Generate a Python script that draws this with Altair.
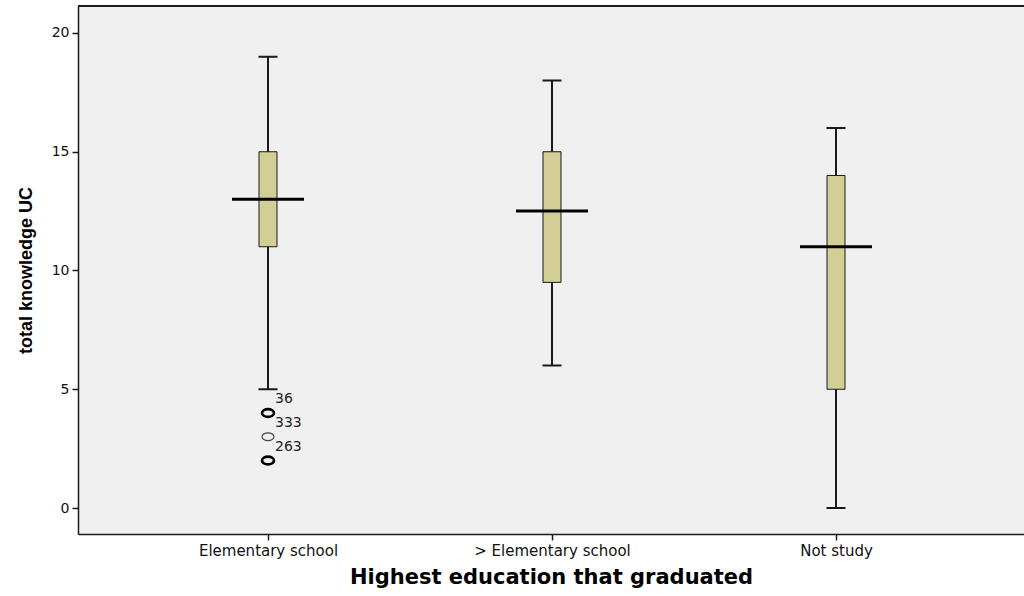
import altair as alt
import pandas as pd

# Summary statistics of total knowledge score by education level
groups = ["Elementary school", "> Elementary school", "Not study"]
whisker_low = [5, 6, 0]
q1 = [11, 9.5, 5]
median = [13, 12.5, 11]
q3 = [15, 15, 14]
whisker_high = [19, 18, 16]

# Outlying cases (all in the first group); several overlapping cases draw a heavier ring
outlier_group = [0, 0, 0]
outlier_value = [4, 3, 2]
outlier_case = ["36", "333", "263"]
outlier_multiple = ["yes", "no", "yes"]

boxes = pd.DataFrame({
    "pos": list(range(len(groups))),
    "group": groups,
    "lo": whisker_low,
    "q1": q1,
    "med": median,
    "q3": q3,
    "hi": whisker_high,
})
outliers = pd.DataFrame({
    "pos": outlier_group,
    "value": outlier_value,
    "case": outlier_case,
    "multiple": outlier_multiple,
})

W, H = 946, 528
X_DOMAIN = [-0.66901, 2.66197]
Y_DOMAIN = [-1.0947, 21.1368]
INK = "#1a1a1a"
BOX_FILL = "#d3cd96"

label_expr = "datum.value == 0 ? 'Elementary school' : datum.value == 1 ? '> Elementary school' : 'Not study'"

x_enc = alt.X(
    "pos:Q",
    scale=alt.Scale(domain=X_DOMAIN, nice=False, zero=False, padding=0),
    axis=alt.Axis(
        values=[0, 1, 2], labelExpr=label_expr, grid=False,
        title="Highest education that graduated",
        titleFont="DejaVu Sans", titleFontSize=21, titleFontWeight="bold",
        titleColor="#000000", titlePadding=8,
        labelFont="DejaVu Sans", labelFontSize=15, labelColor="#111111",
        labelPadding=3, tickSize=6, tickColor=INK, tickWidth=1.5,
        domainColor=INK, domainWidth=1.5,
    ),
)
y_scale = alt.Scale(domain=Y_DOMAIN, nice=False, zero=False, padding=0)
y_axis = alt.Axis(
    values=[0, 5, 10, 15, 20], grid=False,
    title="total knowledge UC",
    titleFont="Liberation Sans", titleFontSize=18, titleFontWeight="bold",
    titleColor="#000000", titlePadding=16,
    labelFont="DejaVu Sans", labelFontSize=14, labelColor="#111111",
    labelPadding=3, tickSize=6, tickColor=INK, tickWidth=1.5,
    domainColor=INK, domainWidth=1.5,
)

base = alt.Chart(boxes)

whiskers = base.mark_rule(color=INK, strokeWidth=2).encode(
    x=x_enc,
    y=alt.Y("lo:Q", scale=y_scale, axis=y_axis),
    y2="hi:Q",
)
cap_low = base.mark_tick(orient="horizontal", size=19, thickness=2, color=INK, opacity=1).encode(
    x="pos:Q", y="lo:Q"
)
cap_high = base.mark_tick(orient="horizontal", size=19, thickness=2, color=INK, opacity=1).encode(
    x="pos:Q", y="hi:Q"
)
box = base.mark_bar(size=18, fill=BOX_FILL, stroke=INK, strokeWidth=1, opacity=1).encode(
    x="pos:Q", y="q1:Q", y2="q3:Q"
)
med = base.mark_tick(orient="horizontal", size=72, thickness=3, color="#000000", opacity=1).encode(
    x="pos:Q", y="med:Q"
)

ring = "M -1 0 A 1 0.65 0 1 1 1 0 A 1 0.65 0 1 1 -1 0 Z"
points = alt.Chart(outliers).mark_point(shape=ring, size=144, filled=False, opacity=1).encode(
    x="pos:Q",
    y="value:Q",
    strokeWidth=alt.StrokeWidth("multiple:N", scale=alt.Scale(domain=["yes", "no"], range=[2.6, 1.2]), legend=None),
    color=alt.Color("multiple:N", scale=alt.Scale(domain=["yes", "no"], range=["#000000", "#444444"]), legend=None),
)
case_labels = alt.Chart(outliers).mark_text(
    align="left", baseline="middle", dx=7, dy=-14,
    font="DejaVu Sans", fontSize=14, color="#222222",
).encode(x="pos:Q", y="value:Q", text="case:N")

top_line = alt.Chart(boxes).mark_rule(color=INK, strokeWidth=1.5).encode(
    x=alt.value(0), x2=alt.value(W), y=alt.value(0)
)

chart = alt.layer(
    whiskers, cap_low, cap_high, box, med, points, case_labels, top_line
).properties(
    width=W, height=H,
    autosize=alt.AutoSizeParams(type="none"),
    padding={"left": 78, "top": 6, "right": 0, "bottom": 58},
    background="#ffffff",
).configure_view(
    fill="#f0f0f0", stroke=None
)

chart.save("out.html", embed_options={"renderer": "svg", "actions": False})
